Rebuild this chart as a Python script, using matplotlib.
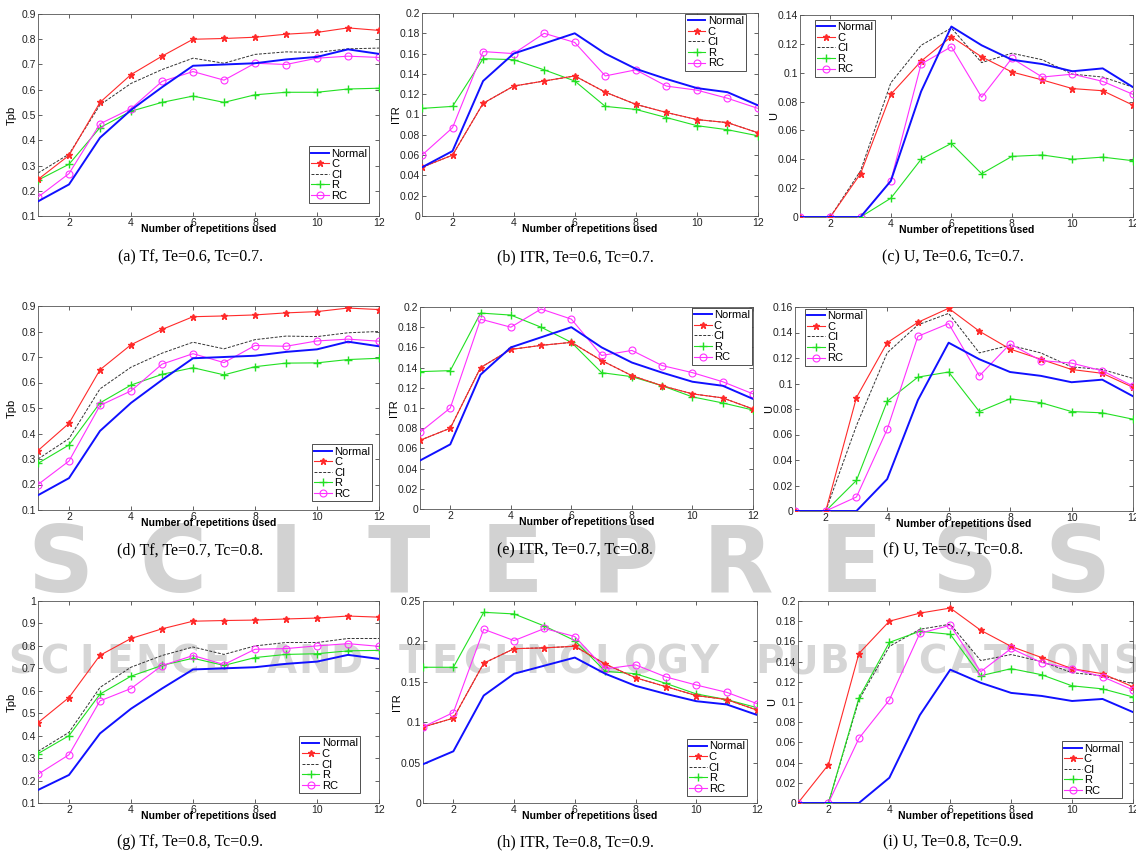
import matplotlib
matplotlib.use("Agg")
import matplotlib.pyplot as plt
from matplotlib.ticker import MultipleLocator, FuncFormatter

reps = list(range(1, 13))

# baseline (Normal) is identical in every row
tpb_normal = [0.158, 0.225, 0.41, 0.52, 0.61, 0.695, 0.70, 0.705, 0.72, 0.73, 0.76, 0.742]
itr_normal = [0.048, 0.064, 0.133, 0.160, 0.170, 0.180, 0.160, 0.145, 0.135, 0.126, 0.122, 0.109]
u_normal = [0, 0, 0, 0.025, 0.087, 0.132, 0.119, 0.109, 0.106, 0.101, 0.103, 0.090]

# Te=0.6, Tc=0.7
tpb_c_1 = [0.245, 0.34, 0.55, 0.66, 0.733, 0.80, 0.803, 0.808, 0.82, 0.827, 0.845, 0.835]
tpb_ci_1 = [0.27, 0.345, 0.54, 0.625, 0.68, 0.725, 0.705, 0.74, 0.75, 0.748, 0.762, 0.765]
tpb_r_1 = [0.242, 0.305, 0.45, 0.515, 0.55, 0.575, 0.55, 0.58, 0.59, 0.59, 0.603, 0.606]
tpb_rc_1 = [0.175, 0.268, 0.465, 0.525, 0.633, 0.672, 0.638, 0.705, 0.70, 0.725, 0.733, 0.728]

itr_c_1 = [0.048, 0.060, 0.111, 0.128, 0.133, 0.138, 0.122, 0.110, 0.102, 0.095, 0.092, 0.082]
itr_ci_1 = [0.048, 0.060, 0.111, 0.128, 0.133, 0.138, 0.122, 0.110, 0.102, 0.095, 0.092, 0.082]
itr_r_1 = [0.106, 0.108, 0.155, 0.154, 0.144, 0.133, 0.108, 0.105, 0.097, 0.089, 0.085, 0.079]
itr_rc_1 = [0.060, 0.087, 0.162, 0.160, 0.180, 0.171, 0.138, 0.144, 0.128, 0.124, 0.116, 0.106]

u_c_1 = [0, 0, 0.030, 0.085, 0.108, 0.125, 0.111, 0.1005, 0.095, 0.089, 0.0875, 0.0775]
u_ci_1 = [0, 0, 0.032, 0.093, 0.119, 0.131, 0.107, 0.1135, 0.109, 0.099, 0.097, 0.090]
u_r_1 = [0, 0, 0, 0.013, 0.040, 0.051, 0.030, 0.042, 0.043, 0.040, 0.0415, 0.039]
u_rc_1 = [0, 0, 0, 0.025, 0.106, 0.118, 0.083, 0.110, 0.097, 0.099, 0.094, 0.085]

# Te=0.7, Tc=0.8
tpb_c_2 = [0.333, 0.44, 0.65, 0.748, 0.808, 0.858, 0.861, 0.865, 0.873, 0.878, 0.892, 0.886]
tpb_ci_2 = [0.30, 0.38, 0.575, 0.66, 0.715, 0.758, 0.732, 0.768, 0.782, 0.78, 0.795, 0.80]
tpb_r_2 = [0.283, 0.355, 0.52, 0.59, 0.632, 0.658, 0.63, 0.662, 0.676, 0.677, 0.69, 0.695]
tpb_rc_2 = [0.20, 0.292, 0.51, 0.567, 0.672, 0.713, 0.678, 0.745, 0.742, 0.763, 0.77, 0.762]

itr_c_2 = [0.068, 0.080, 0.140, 0.158, 0.162, 0.165, 0.147, 0.132, 0.122, 0.114, 0.110, 0.099]
itr_ci_2 = [0.068, 0.080, 0.140, 0.158, 0.162, 0.165, 0.147, 0.132, 0.122, 0.114, 0.110, 0.099]
itr_r_2 = [0.136, 0.137, 0.194, 0.192, 0.180, 0.165, 0.135, 0.131, 0.122, 0.111, 0.105, 0.098]
itr_rc_2 = [0.076, 0.100, 0.188, 0.180, 0.198, 0.188, 0.152, 0.157, 0.142, 0.135, 0.126, 0.114]

u_c_2 = [0, 0, 0.089, 0.132, 0.148, 0.159, 0.141, 0.127, 0.119, 0.111, 0.108, 0.097]
u_ci_2 = [0, 0, 0.067, 0.124, 0.146, 0.155, 0.124, 0.130, 0.124, 0.113, 0.111, 0.104]
u_r_2 = [0, 0, 0.024, 0.086, 0.105, 0.109, 0.078, 0.088, 0.085, 0.078, 0.077, 0.072]
u_rc_2 = [0, 0, 0.011, 0.064, 0.137, 0.147, 0.106, 0.131, 0.118, 0.116, 0.110, 0.098]

# Te=0.8, Tc=0.9
tpb_c_3 = [0.458, 0.57, 0.758, 0.833, 0.876, 0.910, 0.913, 0.915, 0.92, 0.924, 0.933, 0.928]
tpb_ci_3 = [0.33, 0.415, 0.615, 0.705, 0.757, 0.795, 0.762, 0.80, 0.815, 0.815, 0.833, 0.833]
tpb_r_3 = [0.32, 0.40, 0.585, 0.665, 0.713, 0.745, 0.713, 0.748, 0.762, 0.765, 0.778, 0.78]
tpb_rc_3 = [0.228, 0.315, 0.555, 0.61, 0.712, 0.757, 0.717, 0.785, 0.788, 0.80, 0.81, 0.798]

itr_c_3 = [0.094, 0.105, 0.173, 0.191, 0.192, 0.194, 0.172, 0.155, 0.144, 0.133, 0.128, 0.115]
itr_ci_3 = [0.094, 0.105, 0.173, 0.191, 0.192, 0.194, 0.172, 0.155, 0.144, 0.133, 0.128, 0.115]
itr_r_3 = [0.168, 0.168, 0.236, 0.234, 0.219, 0.201, 0.163, 0.160, 0.148, 0.135, 0.128, 0.118]
itr_rc_3 = [0.094, 0.112, 0.215, 0.201, 0.216, 0.206, 0.166, 0.171, 0.156, 0.146, 0.137, 0.123]

u_c_3 = [0, 0.038, 0.148, 0.180, 0.188, 0.193, 0.171, 0.155, 0.144, 0.133, 0.128, 0.115]
u_ci_3 = [0, 0, 0.102, 0.155, 0.172, 0.177, 0.141, 0.147, 0.140, 0.129, 0.126, 0.118]
u_r_3 = [0, 0, 0.104, 0.159, 0.170, 0.167, 0.126, 0.133, 0.127, 0.116, 0.113, 0.105]
u_rc_3 = [0, 0, 0.064, 0.102, 0.168, 0.176, 0.130, 0.153, 0.139, 0.133, 0.125, 0.112]

captions = ["(a) Tf, Te=0.6, Tc=0.7.", "(b) ITR, Te=0.6, Tc=0.7.", "(c) U, Te=0.6, Tc=0.7.",
            "(d) Tf, Te=0.7, Tc=0.8.", "(e) ITR, Te=0.7, Tc=0.8.", "(f) U, Te=0.7, Tc=0.8.",
            "(g) Tf, Te=0.8, Tc=0.9.", "(h) ITR, Te=0.8, Tc=0.9.", "(i) U, Te=0.8, Tc=0.9."]
series_names = ["Normal", "C", "CI", "R", "RC"]

W, H = 1136, 859
fig = plt.figure(figsize=(W / 100, H / 100), dpi=100)

# watermark, spread letter by letter
wm_big = "SCITEPRESS"
wm_small = "SCIENCE AND TECHNOLOGY PUBLICATIONS"
for i, ch in enumerate(wm_big):
    fig.text((60 + i * 113) / W, 1 - 566 / H, ch, fontsize=66, fontweight="bold",
             color="#d2d2d2", ha="center", va="center", zorder=-5, family="DejaVu Sans")
for i, ch in enumerate(wm_small):
    fig.text((22 + i * 32.5) / W, 1 - 662 / H, ch, fontsize=28, fontweight="bold",
             color="#d6d6d6", ha="center", va="center", zorder=-5, family="DejaVu Sans")

# axes boxes in pixels: left, top, right, bottom
boxes = [(38, 14, 379, 216), (422, 13, 758, 216), (800, 15, 1133, 217),
         (38, 306, 379, 510), (420, 307, 753, 509), (795, 307, 1133, 511),
         (38, 601, 379, 803), (423, 601, 757, 803), (798, 601, 1133, 803)]
cap_x = [190, 575, 953, 190, 575, 953, 190, 575, 953]
cap_y = [257, 257, 257, 550, 550, 550, 842, 842, 842]

panels = [
    ("Tpb", (0.1, 0.9), 0.1, [tpb_normal, tpb_c_1, tpb_ci_1, tpb_r_1, tpb_rc_1], "lower right", (0.971, 0.064)),
    ("ITR", (0, 0.2), 0.02, [itr_normal, itr_c_1, itr_ci_1, itr_r_1, itr_rc_1], "upper right", (0.964, 0.995)),
    ("U", (0, 0.14), 0.02, [u_normal, u_c_1, u_ci_1, u_r_1, u_rc_1], "upper left", (0.045, 0.975)),
    ("Tpb", (0.1, 0.9), 0.1, [tpb_normal, tpb_c_2, tpb_ci_2, tpb_r_2, tpb_rc_2], "lower right", (0.98, 0.044)),
    ("ITR", (0, 0.2), 0.02, [itr_normal, itr_c_2, itr_ci_2, itr_r_2, itr_rc_2], "upper right", (0.997, 0.995)),
    ("U", (0, 0.16), 0.02, [u_normal, u_c_2, u_ci_2, u_r_2, u_rc_2], "upper left", (0.03, 0.99)),
    ("Tpb", (0.1, 1.0), 0.1, [tpb_normal, tpb_c_3, tpb_ci_3, tpb_r_3, tpb_rc_3], "lower right", (0.944, 0.05)),
    ("ITR", (0, 0.25), 0.05, [itr_normal, itr_c_3, itr_ci_3, itr_r_3, itr_rc_3], "lower right", (0.97, 0.035)),
    ("U", (0, 0.2), 0.02, [u_normal, u_c_3, u_ci_3, u_r_3, u_rc_3], "lower right", (0.967, 0.025)),
]

styles = [
    dict(color="#1010ff", lw=1.4, zorder=5),
    dict(color="#ff2a2a", lw=0.8, marker="*", ms=4.5, zorder=4),
    dict(color="#333333", lw=0.7, ls="--", dashes=(3, 1.5), zorder=2),
    dict(color="#22e022", lw=0.8, marker="+", ms=5.5, zorder=3),
    dict(color="#ff30ff", lw=0.8, marker="o", ms=5, mfc="none", mew=0.8, zorder=4),
]

fmt = FuncFormatter(lambda v, p: ("%g" % round(v, 4)))

for k, (ylab, ylim, ystep, data, loc, anchor) in enumerate(panels):
    l, t, r, b = boxes[k]
    ax = fig.add_axes([l / W, 1 - b / H, (r - l) / W, (b - t) / H])
    ax.set_facecolor("none")
    for name, vals, st in zip(series_names, data, styles):
        ax.plot(reps, vals, label=name, **st)
    ax.set_xlim(1, 12)
    ax.set_ylim(*ylim)
    ax.xaxis.set_major_locator(MultipleLocator(2))
    ax.yaxis.set_major_locator(MultipleLocator(ystep))
    ax.yaxis.set_major_formatter(fmt)
    ax.tick_params(direction="in", top=True, right=True, length=3, width=0.5,
                   labelsize=7.5, pad=1.5, colors="#222222")
    for lbl in ax.get_xticklabels() + ax.get_yticklabels():
        lbl.set_family("Liberation Sans")
    for sp in ax.spines.values():
        sp.set_linewidth(0.6)
        sp.set_color("#555555")
    ax.set_xlabel("Number of repetitions used", family="Liberation Sans", fontweight="bold",
                  fontsize=7.5, va="center")
    ax.xaxis.set_label_coords(0.5, -13 / (b - t))
    ax.set_ylabel(ylab, family="Liberation Sans", fontsize=8, va="center")
    ax.yaxis.set_label_coords(-26 / (r - l), 0.5)
    leg = ax.legend(loc=loc, bbox_to_anchor=anchor, borderaxespad=0,
                    prop={"family": "Liberation Sans", "size": 8}, labelspacing=0.05,
                    borderpad=0.2, handlelength=1.6, handletextpad=0.2,
                    fancybox=False, framealpha=1, edgecolor="#333333")
    leg.get_frame().set_linewidth(0.6)
    fig.text(cap_x[k] / W, 1 - cap_y[k] / H, captions[k], family="Liberation Serif",
             fontsize=11.5, ha="center", va="center")

fig.savefig("out.png", dpi=100)
